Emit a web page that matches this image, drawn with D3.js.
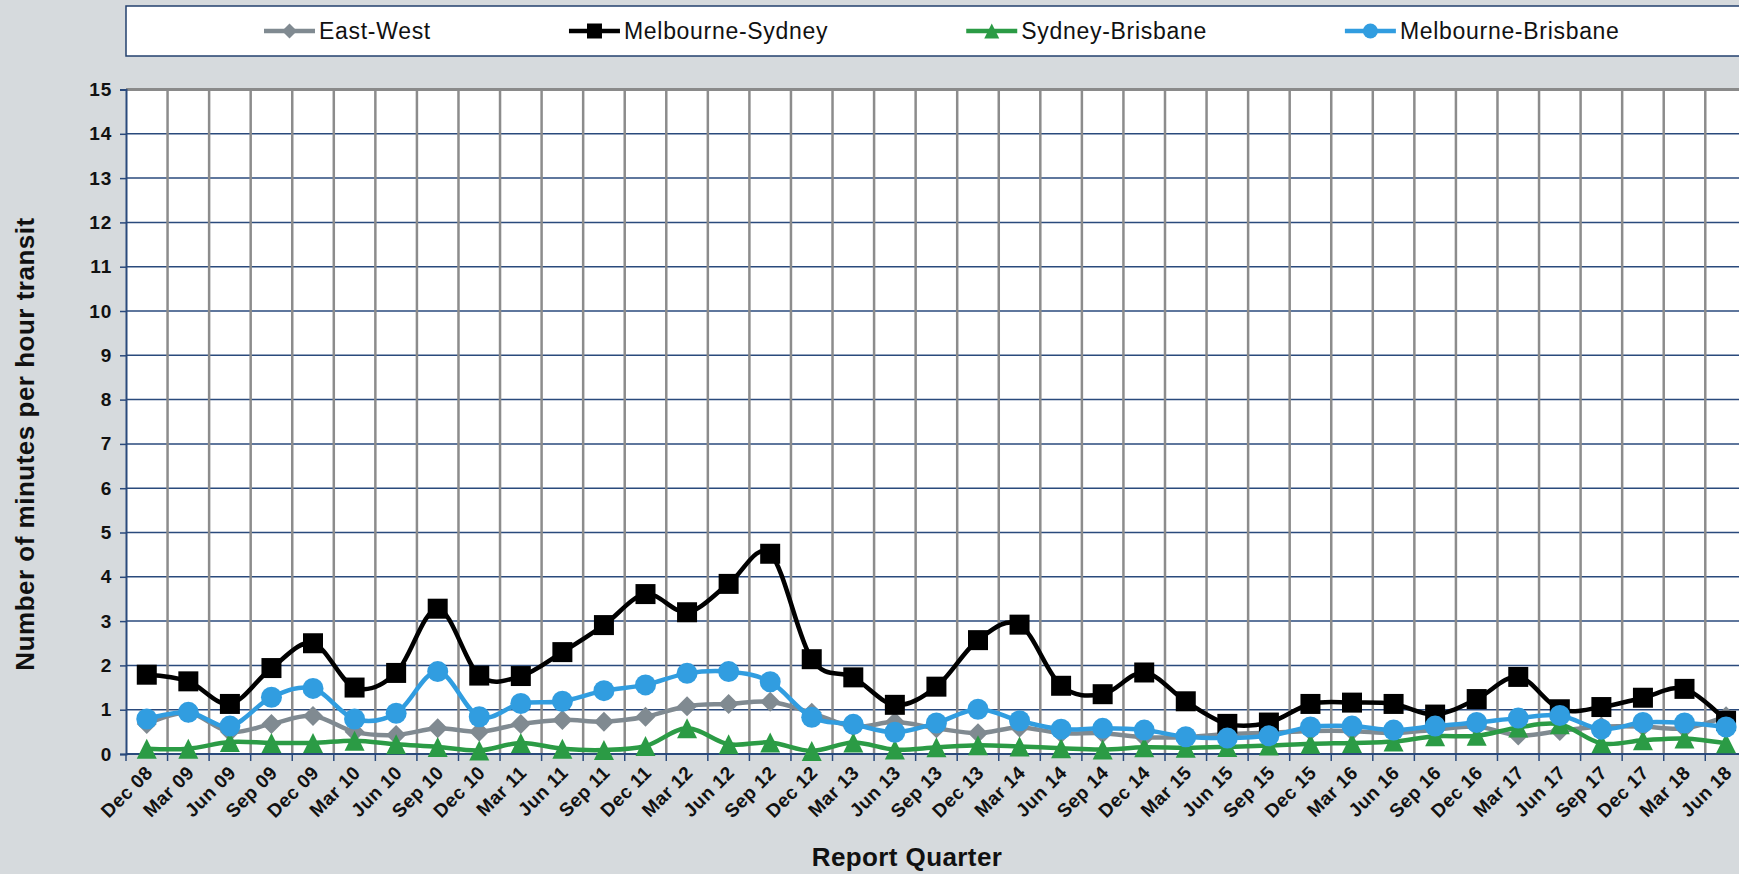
<!DOCTYPE html>
<html>
<head>
<meta charset="utf-8">
<script src="https://cdn.jsdelivr.net/npm/d3@7"></script>
<style>
  body { margin: 0; background: #d6dadd; }
  text { font-family: "Liberation Sans", Arial, sans-serif; }
</style>
</head>
<body>
<svg id="chart" width="1739" height="874"></svg>
<script>
// quarters on the x axis
const categories = ["Dec 08","Mar 09","Jun 09","Sep 09","Dec 09","Mar 10","Jun 10","Sep 10","Dec 10",
  "Mar 11","Jun 11","Sep 11","Dec 11","Mar 12","Jun 12","Sep 12","Dec 12","Mar 13","Jun 13","Sep 13",
  "Dec 13","Mar 14","Jun 14","Sep 14","Dec 14","Mar 15","Jun 15","Sep 15","Dec 15","Mar 16","Jun 16",
  "Sep 16","Dec 16","Mar 17","Jun 17","Sep 17","Dec 17","Mar 18","Jun 18"];

const eastWest = [0.68,0.93,0.50,0.68,0.86,0.50,0.43,0.58,0.50,0.68,0.77,0.73,0.84,1.08,1.13,1.18,0.93,0.62,0.72,0.58,
  0.47,0.60,0.47,0.47,0.38,0.38,0.45,0.48,0.52,0.52,0.47,0.55,0.62,0.42,0.52,0.62,0.62,0.58,0.85];
const melbSyd = [1.79,1.64,1.13,1.94,2.50,1.50,1.83,3.28,1.77,1.76,2.30,2.91,3.61,3.20,3.84,4.52,2.14,1.73,1.11,1.52,
  2.57,2.92,1.54,1.35,1.84,1.19,0.68,0.71,1.13,1.16,1.13,0.89,1.24,1.74,1.01,1.06,1.27,1.47,0.75];
const sydBris = [0.12,0.12,0.27,0.25,0.25,0.30,0.22,0.16,0.08,0.25,0.12,0.09,0.18,0.58,0.22,0.26,0.07,0.26,0.10,0.15,
  0.20,0.17,0.13,0.10,0.15,0.14,0.16,0.19,0.23,0.25,0.28,0.40,0.41,0.60,0.67,0.24,0.31,0.35,0.24];
const melbBris = [0.79,0.94,0.63,1.28,1.48,0.79,0.92,1.86,0.84,1.14,1.19,1.43,1.56,1.82,1.86,1.63,0.83,0.67,0.49,0.70,
  1.01,0.75,0.56,0.58,0.54,0.39,0.36,0.41,0.61,0.63,0.54,0.63,0.71,0.81,0.87,0.56,0.71,0.70,0.61];

const yTicks = [0,1,2,3,4,5,6,7,8,9,10,11,12,13,14,15];

const seriesNames = ["East-West","Melbourne-Sydney","Sydney-Brisbane","Melbourne-Brisbane"];
const seriesValues = [eastWest, melbSyd, sydBris, melbBris];
const seriesColors = ["#808a91","#000000","#2b9b45","#319de0"];
const seriesShapes = ["diamond","square","triangle","circle"];

const svg = d3.select("#chart");
const W = 1739, H = 874;
const plotLeft = 126, plotTop = 89.5, plotBottom = 754;
const step = 41.56;
const plotRight = plotLeft + step * categories.length;
const navy = "#2a4a7c";

svg.append("rect").attr("width", W).attr("height", H).attr("fill", "#d6dadd");

const x = d3.scaleBand().domain(categories).range([plotLeft, plotRight]).padding(0);
const y = d3.scaleLinear().domain([0, 15]).range([plotBottom, plotTop]);

// plot area
svg.append("rect")
  .attr("x", plotLeft).attr("y", plotTop)
  .attr("width", plotRight - plotLeft).attr("height", plotBottom - plotTop)
  .attr("fill", "#ffffff");

// horizontal gridlines
svg.append("g")
  .selectAll("line")
  .data(yTicks.filter(d => d > 0 && d < 15))
  .join("line")
  .attr("x1", plotLeft).attr("x2", plotRight)
  .attr("y1", d => y(d)).attr("y2", d => y(d))
  .attr("stroke", navy).attr("stroke-width", 1.5);

// vertical gridlines at the quarter boundaries
const bounds = categories.map(c => x(c)).concat([plotRight]);
svg.append("g")
  .selectAll("line")
  .data(bounds.slice(1))
  .join("line")
  .attr("x1", d => d).attr("x2", d => d)
  .attr("y1", plotTop).attr("y2", plotBottom)
  .attr("stroke", "#8c8c8c").attr("stroke-width", 2.5);

// top border
svg.append("line")
  .attr("x1", plotLeft).attr("x2", plotRight)
  .attr("y1", plotTop).attr("y2", plotTop)
  .attr("stroke", "#8a8a8a").attr("stroke-width", 3);

// y axis
const yAxis = svg.append("g")
  .attr("transform", `translate(${plotLeft},0)`)
  .call(d3.axisLeft(y).tickValues(yTicks).tickSize(6).tickPadding(8));
yAxis.select(".domain").attr("stroke", navy).attr("stroke-width", 2);
yAxis.selectAll(".tick line").attr("stroke", navy).attr("stroke-width", 1.5);
yAxis.selectAll(".tick text")
  .attr("fill", "#111").style("font-size", "19px").style("font-weight", "bold")
  .style("letter-spacing", "0.8px")
  .style("font-family", "'Liberation Sans', Arial, sans-serif");

// x axis line + ticks
svg.append("line")
  .attr("x1", plotLeft).attr("x2", plotRight)
  .attr("y1", plotBottom).attr("y2", plotBottom)
  .attr("stroke", navy).attr("stroke-width", 2);
svg.append("g")
  .selectAll("line")
  .data(bounds)
  .join("line")
  .attr("x1", d => d).attr("x2", d => d)
  .attr("y1", plotBottom).attr("y2", plotBottom + 7)
  .attr("stroke", navy).attr("stroke-width", 1.5);

// x tick labels rotated
svg.append("g")
  .selectAll("text")
  .data(categories)
  .join("text")
  .attr("transform", d => `translate(${x(d) + x.bandwidth() / 2 + 7},${plotBottom + 20}) rotate(-45)`)
  .attr("text-anchor", "end")
  .attr("font-size", 19).attr("font-weight", "bold").attr("fill", "#111")
  .attr("letter-spacing", 0.4)
  .text(d => d);

// axis titles
svg.append("text")
  .attr("x", 907).attr("y", 866)
  .attr("text-anchor", "middle")
  .attr("font-size", 26).attr("font-weight", "bold").attr("fill", "#111")
  .attr("letter-spacing", 0.4)
  .text("Report Quarter");

svg.append("text")
  .attr("transform", "translate(34,444) rotate(-90)")
  .attr("text-anchor", "middle")
  .attr("font-size", 26).attr("font-weight", "bold").attr("fill", "#111")
  .attr("letter-spacing", 0.5)
  .text("Number of minutes per hour transit");

// marker shapes
function markerPath(shape, r) {
  if (shape === "square") return `M${-r},${-r}H${r}V${r}H${-r}Z`;
  if (shape === "diamond") return `M0,${-r}L${r},0L0,${r}L${-r},0Z`;
  if (shape === "triangle") return `M0,${-r}L${r},${r}L${-r},${r}Z`;
  const p = d3.path(); p.arc(0, 0, r, 0, 2 * Math.PI); return p.toString();
}

const line = d3.line()
  .x((d, i) => x(categories[i]) + x.bandwidth() / 2)
  .y(d => y(d))
  .curve(d3.curveCardinal.tension(0));

seriesValues.forEach(function(vals, s) {
  const g = svg.append("g");
  g.append("path")
    .datum(vals)
    .attr("d", line)
    .attr("fill", "none")
    .attr("stroke", seriesColors[s])
    .attr("stroke-width", 4.5)
    .attr("stroke-linejoin", "round");
  g.selectAll("path.m")
    .data(vals)
    .join("path")
    .attr("class", "m")
    .attr("transform", (d, i) => `translate(${x(categories[i]) + x.bandwidth() / 2},${y(d)})`)
    .attr("d", markerPath(seriesShapes[s], seriesShapes[s] === "circle" ? 10.5 : 10))
    .attr("fill", seriesColors[s]);
});

// legend
svg.append("rect")
  .attr("x", plotLeft).attr("y", 6)
  .attr("width", 1700).attr("height", 50)
  .attr("fill", "#ffffff")
  .attr("stroke", "#23406e").attr("stroke-width", 1.5);

let lx = 264;
seriesNames.forEach(function(name, s) {
  const g = svg.append("g");
  g.append("line")
    .attr("x1", lx).attr("x2", lx + 51)
    .attr("y1", 31).attr("y2", 31)
    .attr("stroke", seriesColors[s]).attr("stroke-width", 4.5);
  g.append("path")
    .attr("transform", `translate(${lx + 25.5},31)`)
    .attr("d", markerPath(seriesShapes[s], 7.5))
    .attr("fill", seriesColors[s]);
  const t = g.append("text")
    .attr("x", lx + 55).attr("y", 39)
    .attr("font-size", 23).attr("fill", "#111")
    .attr("letter-spacing", 0.7)
    .text(name);
  lx = lx + 55 + t.node().getComputedTextLength() + 138;
});
</script>
</body>
</html>
